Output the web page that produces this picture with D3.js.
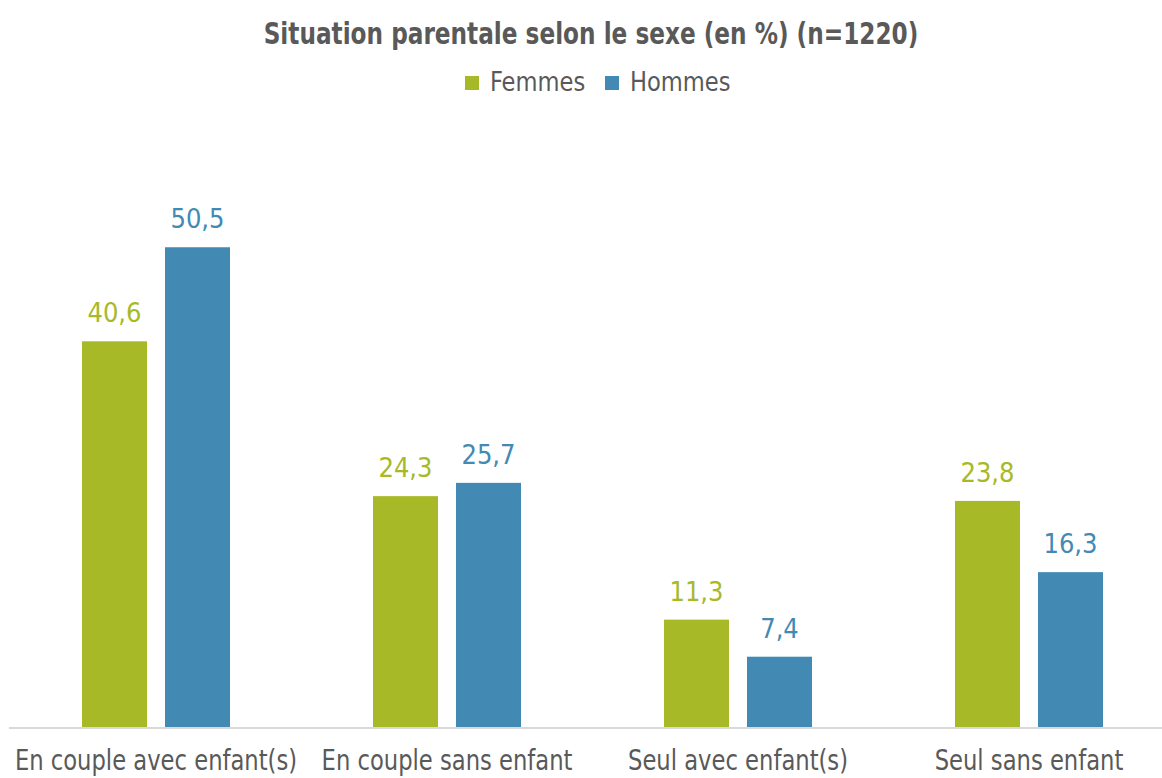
<!DOCTYPE html>
<html lang="fr">
<head>
<meta charset="UTF-8">
<title>Situation parentale selon le sexe</title>
<script src="https://d3js.org/d3.v7.min.js"></script>
<style>
  body { margin: 0; background: #fff; overflow: hidden; }
  text { font-family: "DejaVu Sans Condensed", "DejaVu Sans", sans-serif; font-stretch: condensed; }
</style>
</head>
<body>
<script>
  const categories = ["En couple avec enfant(s)", "En couple sans enfant", "Seul avec enfant(s)", "Seul sans enfant"]
  const series = ["Femmes", "Hommes"]
  const femmes = [40.6, 24.3, 11.3, 23.8]
  const hommes = [50.5, 25.7, 7.4, 16.3]
  const colors = ["#a8b927", "#428ab4"]

  const W = 1162, H = 778
  const textColor = "#595959"

  const svg = d3.select("body").append("svg")
    .attr("width", W)
    .attr("height", H)

  const x = d3.scaleBand()
    .domain(categories)
    .range([10.5, 1174.5])

  const x1 = d3.scalePoint()
    .domain(series)
    .range([-41.5, 41.5])

  const y = d3.scaleLinear()
    .domain([0, 60])
    .range([727, 157])

  const rows = categories.map((c, i) => ({cat: c, values: [femmes[i], hommes[i]]}))

  // baseline
  svg.append("line")
    .attr("x1", 9).attr("x2", W)
    .attr("y1", y(0) + 1).attr("y2", y(0) + 1)
    .attr("stroke", "#d9d9d9")
    .attr("stroke-width", 2)

  const groups = svg.selectAll(".grp")
    .data(rows)
    .enter().append("g")
    .attr("class", "grp")
    .attr("transform", d => "translate(" + (x(d.cat) + x.bandwidth() / 2) + ",0)")

  const barW = 65

  groups.selectAll("rect")
    .data(d => d.values.map((v, j) => ({s: series[j], v: v, j: j})))
    .enter().append("rect")
    .attr("x", d => x1(d.s) - barW / 2)
    .attr("y", d => y(d.v))
    .attr("width", barW)
    .attr("height", d => y(0) - y(d.v))
    .attr("fill", d => colors[d.j])

  groups.selectAll(".val")
    .data(d => d.values.map((v, j) => ({s: series[j], v: v, j: j})))
    .enter().append("text")
    .attr("class", "val")
    .attr("x", d => x1(d.s))
    .attr("y", d => y(d.v) - 19)
    .attr("text-anchor", "middle")
    .attr("font-size", 27)
    .attr("fill", d => colors[d.j])
    .text(d => String(d.v).replace(".", ","))

  // category labels, squeezed a bit to fit like the original narrow font
  groups.append("text")
    .attr("transform", "translate(0,770) scale(0.9,1)")
    .attr("text-anchor", "middle")
    .attr("font-size", 28)
    .attr("fill", textColor)
    .text(d => d.cat)

  // title
  svg.append("text")
    .attr("transform", "translate(591,44) scale(0.86,1)")
    .attr("text-anchor", "middle")
    .attr("font-size", 30)
    .attr("font-weight", "bold")
    .attr("fill", textColor)
    .text("Situation parentale selon le sexe (en %) (n=1220)")

  // legend
  const legendX = [465, 605]
  const legend = svg.selectAll(".leg")
    .data(series)
    .enter().append("g")
    .attr("class", "leg")
    .attr("transform", (d, i) => "translate(" + legendX[i] + ",76)")

  legend.append("rect")
    .attr("width", 14).attr("height", 14)
    .attr("fill", (d, i) => colors[i])

  legend.append("text")
    .attr("transform", "translate(25,15) scale(0.93,1)")
    .attr("font-size", 27)
    .attr("fill", textColor)
    .text(d => d)
</script>
</body>
</html>
